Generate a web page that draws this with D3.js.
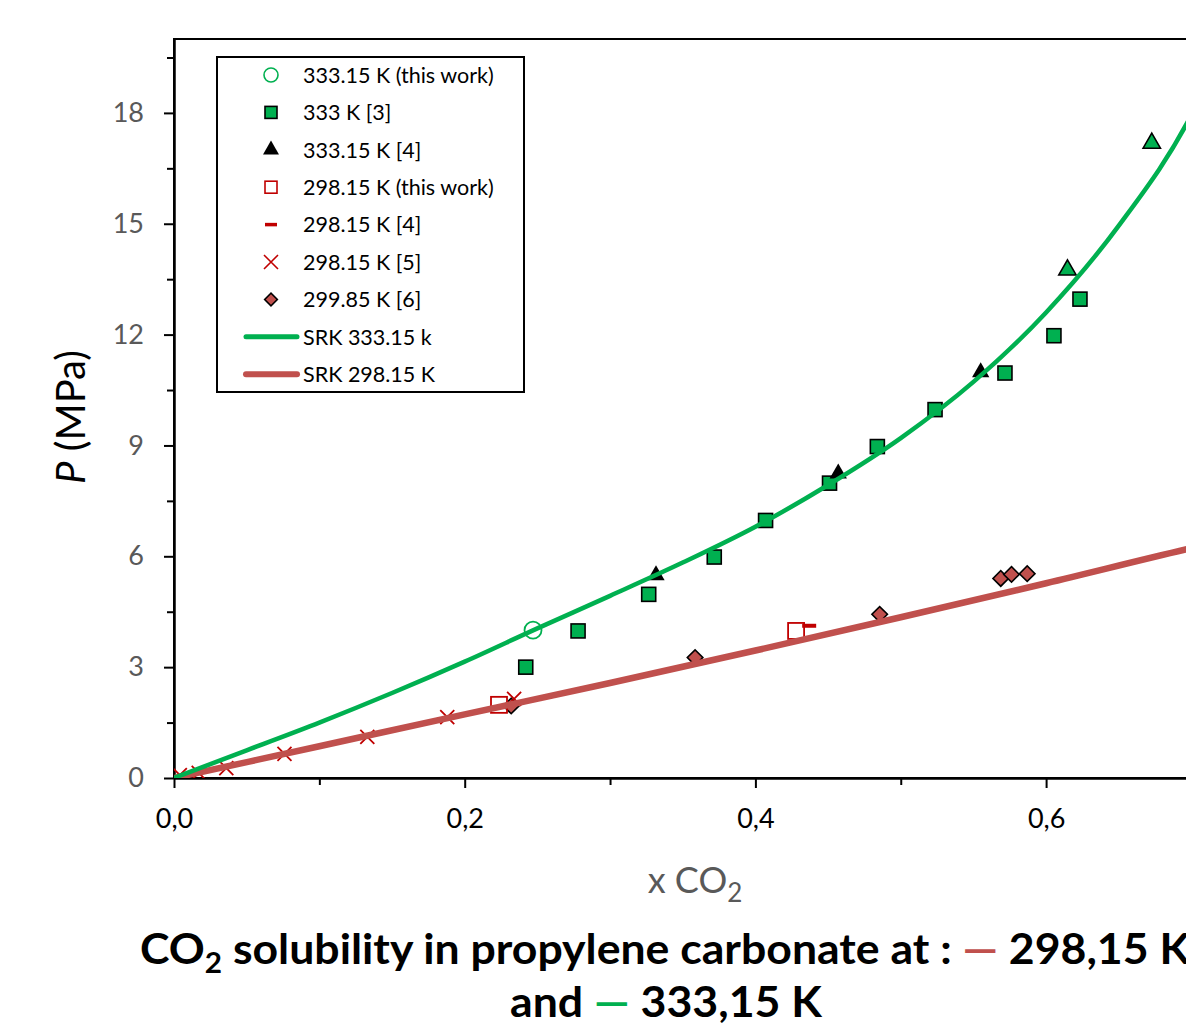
<!DOCTYPE html>
<html><head><meta charset="utf-8">
<script src="https://cdn.jsdelivr.net/npm/d3@7"></script>
<style>body{margin:0;background:#fff}svg{display:block}</style>
</head><body>
<svg id="c" width="1186" height="1027"></svg>
<script>
// ---- data ----
const circle333ThisWork = [[0.247, 4.0]];
const square333Ref3 = [[0.242,3.0],[0.278,3.98],[0.3266,4.97],[0.3717,5.98],[0.407,6.97],[0.451,7.98],[0.4839,8.97],[0.5236,9.97],[0.5717,10.96],[0.6054,11.97],[0.6233,12.96]];
const triangle333Ref4 = [[0.3316,5.49],[0.457,8.24],[0.555,10.98]];
const triangle333Ref4High = [[0.6147,13.75],[0.6727,17.18]];
const square298ThisWork = [[0.2236,1.98],[0.428,3.98]];
const dash298Ref4 = [[0.437,4.12]];
const cross298Ref5 = [[0.004,0.08],[0.017,0.14],[0.036,0.27],[0.076,0.65],[0.133,1.11],[0.188,1.65],[0.234,2.14]];
const diamond29985Ref6 = [[0.232,1.95],[0.3585,3.26],[0.4855,4.43],[0.5688,5.4],[0.5762,5.51],[0.587,5.53]];
const srk333X = [0,0.05,0.1,0.15,0.2,0.25,0.3,0.35,0.4,0.45,0.5,0.55,0.6,0.65,0.7,0.72];
const srk333P = [0,0.75,1.5,2.3,3.15,4.05,4.93,5.83,6.8,7.93,9.2,10.72,12.6,14.95,17.95,19.6];
const srk298X = [0,0.1,0.2,0.3,0.4,0.5,0.6,0.7,0.72];
const srk298P = [0,0.86,1.72,2.57,3.45,4.35,5.27,6.22,6.4];
const xMajorTicks = [0,0.2,0.4,0.6];
const xMinorTicks = [0.1,0.3,0.5];
const yMajorTicks = [0,3,6,9,12,15,18];
const yMinorTicks = [1.5,4.5,7.5,10.5,13.5,16.5,19.5];
const legendLabels = ["333.15 K (this work)","333 K [3]","333.15 K [4]","298.15 K (this work)","298.15 K [4]","298.15 K [5]","299.85 K [6]","SRK 333.15 k","SRK 298.15 K"];

// ---- styling ----
const GREEN = "#00b050", RED = "#c00000", BRICK = "#c0504d";
const svg = d3.select("#c");
const L = 174, T = 39, B = 778;
const x = d3.scaleLinear().domain([0,0.8]).range([L, L + 0.8*1453.5]);
const y = d3.scaleLinear().domain([0,20]).range([B, T]);

svg.append("defs").append("clipPath").attr("id","pc").append("rect")
  .attr("x",L).attr("y",T).attr("width",x(0.8)-L).attr("height",B-T);

// frame
svg.append("rect").attr("x",L).attr("y",T).attr("width",x(0.8)-L).attr("height",B-T)
  .attr("fill","none").attr("stroke","#000").attr("stroke-width",2);

// axes
const fmt = d => d3.format(".1f")(d).replace(".", ",");
const xAxis = svg.append("g").attr("transform",`translate(0,${B})`)
  .call(d3.axisBottom(x).tickValues(xMajorTicks).tickSize(10).tickSizeOuter(0).tickFormat(fmt));
xAxis.select(".domain").attr("stroke-width",2.5);
xAxis.selectAll(".tick line").attr("stroke-width",2);
xAxis.selectAll("text").attr("font-family","Lato, sans-serif").attr("font-size",27).attr("fill","#000").attr("y",31).attr("dy","0.71em");
svg.append("g").attr("transform",`translate(0,${B})`)
  .call(d3.axisBottom(x).tickValues(xMinorTicks).tickSize(7).tickFormat(""))
  .call(g=>g.select(".domain").remove()).selectAll("line").attr("stroke-width",2);

const yAxis = svg.append("g").attr("transform",`translate(${L},0)`)
  .call(d3.axisLeft(y).tickValues(yMajorTicks).tickSize(10).tickSizeOuter(0).tickFormat(d3.format("d")));
yAxis.select(".domain").attr("stroke-width",2.5);
yAxis.selectAll(".tick line").attr("stroke-width",2);
yAxis.selectAll("text").attr("font-family","Lato, sans-serif").attr("font-size",27).attr("fill","#595959").attr("x",-30);
svg.append("g").attr("transform",`translate(${L},0)`)
  .call(d3.axisLeft(y).tickValues(yMinorTicks).tickSize(7).tickFormat(""))
  .call(g=>g.select(".domain").remove()).selectAll("line").attr("stroke-width",2);

// axis titles
const xt = svg.append("text").attr("x",695).attr("y",893).attr("text-anchor","middle")
  .attr("font-family","Lato, sans-serif").attr("font-size",36).attr("fill","#595959");
xt.append("tspan").text("x CO");
xt.append("tspan").attr("font-size",26).attr("dy",9).text("2");

const yt = svg.append("text").attr("transform","translate(85,417) rotate(-90)").attr("text-anchor","middle")
  .attr("font-family","Lato, sans-serif").attr("font-size",40).attr("fill","#000");
yt.append("tspan").attr("font-style","italic").text("P");
yt.append("tspan").text(" (MPa)");

// markers
const plot = svg.append("g").attr("clip-path","url(#pc)");
const sym = (type,size) => d3.symbol().type(type).size(size)();

plot.selectAll(".sq3").data(square333Ref3).join("rect")
  .attr("x",d=>x(d[0])-7).attr("y",d=>y(d[1])-7).attr("width",14).attr("height",14)
  .attr("fill",GREEN).attr("stroke","#000").attr("stroke-width",1.6);
plot.selectAll(".tr4").data(triangle333Ref4).join("path")
  .attr("transform",d=>`translate(${x(d[0])},${y(d[1])})`).attr("d",sym(d3.symbolTriangle,130))
  .attr("fill","#000");
plot.selectAll(".tr4h").data(triangle333Ref4High).join("path")
  .attr("transform",d=>`translate(${x(d[0])},${y(d[1])})`).attr("d",sym(d3.symbolTriangle,130))
  .attr("fill",GREEN).attr("stroke","#000").attr("stroke-width",1.6);
plot.selectAll(".dm").data(diamond29985Ref6).join("rect")
  .attr("transform",d=>`translate(${x(d[0])},${y(d[1])}) rotate(45)`)
  .attr("x",-5.5).attr("y",-5.5).attr("width",11).attr("height",11)
  .attr("fill",BRICK).attr("stroke","#000").attr("stroke-width",1.6);
plot.selectAll(".cr").data(cross298Ref5).join("path")
  .attr("transform",d=>`translate(${x(d[0])},${y(d[1])})`).attr("d","M-7,-7L7,7M-7,7L7,-7")
  .attr("stroke",RED).attr("stroke-width",1.8).attr("fill","none");
plot.selectAll(".rs").data(square298ThisWork).join("rect")
  .attr("x",d=>x(d[0])-8).attr("y",d=>y(d[1])-8).attr("width",16).attr("height",16)
  .attr("fill","none").attr("stroke",RED).attr("stroke-width",1.8);
plot.selectAll(".ds").data(dash298Ref4).join("line")
  .attr("x1",d=>x(d[0])-7).attr("x2",d=>x(d[0])+7).attr("y1",d=>y(d[1])).attr("y2",d=>y(d[1]))
  .attr("stroke",RED).attr("stroke-width",4);
plot.selectAll(".ci").data(circle333ThisWork).join("circle")
  .attr("cx",d=>x(d[0])).attr("cy",d=>y(d[1])).attr("r",8.5)
  .attr("fill","none").attr("stroke",GREEN).attr("stroke-width",1.8);

// SRK lines (drawn on top)
const line = d3.line().x(d=>x(d[0])).y(d=>y(d[1])).curve(d3.curveMonotoneX);
plot.append("path").attr("d",line(srk298X.map((v,i)=>[v,srk298P[i]])))
  .attr("fill","none").attr("stroke",BRICK).attr("stroke-width",6.5);
plot.append("path").attr("d",line(srk333X.map((v,i)=>[v,srk333P[i]])))
  .attr("fill","none").attr("stroke",GREEN).attr("stroke-width",4.5);

// legend
const lg = svg.append("g");
lg.append("rect").attr("x",217).attr("y",57).attr("width",307).attr("height",335)
  .attr("fill","#fff").attr("stroke","#000").attr("stroke-width",2);
const rowY = i => 75 + i*37.4;
const mx = 271;
lg.append("circle").attr("cx",mx).attr("cy",rowY(0)).attr("r",7).attr("fill","none").attr("stroke",GREEN).attr("stroke-width",1.6);
lg.append("rect").attr("x",mx-6).attr("y",rowY(1)-6).attr("width",12).attr("height",12).attr("fill",GREEN).attr("stroke","#000").attr("stroke-width",1.6);
lg.append("path").attr("transform",`translate(${mx},${rowY(2)})`).attr("d",sym(d3.symbolTriangle,110)).attr("fill","#000");
lg.append("rect").attr("x",mx-6).attr("y",rowY(3)-6).attr("width",12).attr("height",12).attr("fill","none").attr("stroke",RED).attr("stroke-width",1.6);
lg.append("line").attr("x1",mx-6).attr("x2",mx+6).attr("y1",rowY(4)).attr("y2",rowY(4)).attr("stroke",RED).attr("stroke-width",3.5);
lg.append("path").attr("transform",`translate(${mx},${rowY(5)})`).attr("d","M-7,-7L7,7M-7,7L7,-7").attr("stroke",RED).attr("stroke-width",1.6);
lg.append("rect").attr("transform",`translate(${mx},${rowY(6)}) rotate(45)`).attr("x",-4.5).attr("y",-4.5).attr("width",9).attr("height",9).attr("fill",BRICK).attr("stroke","#000").attr("stroke-width",1.6);
lg.append("line").attr("x1",246).attr("x2",297).attr("y1",rowY(7)).attr("y2",rowY(7)).attr("stroke",GREEN).attr("stroke-width",5).attr("stroke-linecap","round");
lg.append("line").attr("x1",246).attr("x2",297).attr("y1",rowY(8)).attr("y2",rowY(8)).attr("stroke",BRICK).attr("stroke-width",6).attr("stroke-linecap","round");
lg.selectAll(".lt").data(legendLabels).join("text")
  .attr("x",303).attr("y",(d,i)=>rowY(i)).attr("dy","0.36em")
  .attr("font-family","Lato, sans-serif").attr("font-size",21.5).attr("fill","#000").text(d=>d);

// title
const t1 = svg.append("text").attr("x",140).attr("y",964)
  .attr("font-family","Lato, sans-serif").attr("font-weight","bold").attr("font-size",42).attr("fill","#000")
  .attr("textLength",1050).attr("lengthAdjust","spacingAndGlyphs");
t1.append("tspan").text("CO");
t1.append("tspan").attr("font-size",28).attr("dy",9).text("2");
t1.append("tspan").attr("dy",-9).text(" solubility in propylene carbonate at : ");
t1.append("tspan").attr("fill",BRICK).text("—");
t1.append("tspan").text(" 298,15 K");
const t2 = svg.append("text").attr("x",510).attr("y",1017)
  .attr("font-family","Lato, sans-serif").attr("font-weight","bold").attr("font-size",42).attr("fill","#000")
  .attr("textLength",312).attr("lengthAdjust","spacingAndGlyphs");
t2.append("tspan").text("and ");
t2.append("tspan").attr("fill",GREEN).text("—");
t2.append("tspan").text(" 333,15 K");
</script>
</body></html>
